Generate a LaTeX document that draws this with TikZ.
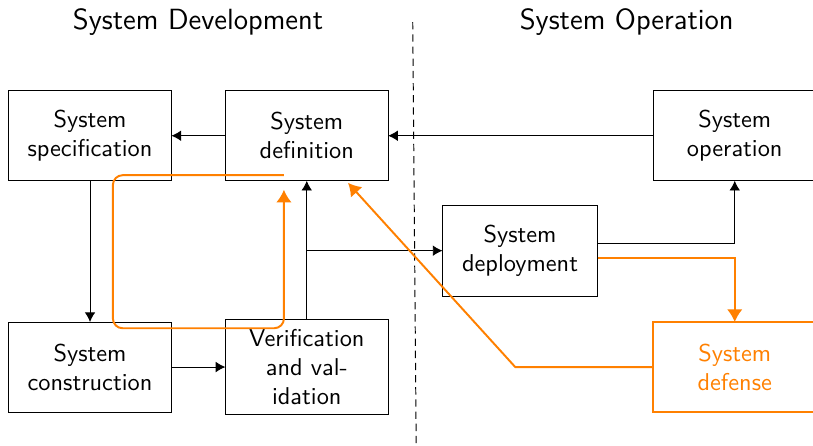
\documentclass[tikz,border=0pt]{standalone}
\usepackage{fontspec}
\usetikzlibrary{arrows.meta}
\renewcommand{\familydefault}{\sfdefault}
\definecolor{defcol}{RGB}{255,128,0}
\begin{document}
\begin{tikzpicture}[inner sep=0pt,outer sep=0pt,>={Latex[length=4pt,width=4.4pt]},
sysblock/.style={draw,rectangle,align=center,minimum width=2.35cm,minimum height=1.3cm,inner sep=2pt},
defline/.style={defcol,line width=0.8pt},
defarrow/.style={defline,-{Latex[length=5.2pt,width=6.4pt]}}]
\useasboundingbox (0,0) rectangle (11.74,-6.43);
\clip (0,0) rectangle (11.74,-6.43);
\draw (2.86,-0.32) node {\large System Development};
\draw (9.05,-0.32) node {\large System Operation};
\draw[dash pattern=on 3pt off 2pt] (5.96,-0.32) -- (6.01,-6.43);
\draw (1.30,-1.96) node[sysblock] (spec) {System\\specification};
\draw (4.43,-1.96) node[sysblock] (defn) {System\\definition};
\draw (1.30,-5.30) node[sysblock] (constr) {System\\construction};
\draw (4.43,-5.30) node[sysblock,minimum height=1.36cm] (vv) {Verification\\and val-\\idation};
\draw (7.51,-3.62) node[sysblock,minimum width=2.24cm,minimum height=1.31cm] (deploy) {System\\deployment};
\draw (10.61,-1.96) node[sysblock] (oper) {System\\operation};
\draw (10.61,-5.30) node[sysblock,defline,text=defcol] (defense) {System\\defense};
\draw[->] (defn.west) -- (spec.east);
\draw[->] (oper.west) -- (defn.east);
\draw[->] (spec.south) -- (constr.north);
\draw[->] (constr.east) -- (vv.west);
\draw[->] (vv.north) -- (defn.south);
\draw[->] (4.43,-3.62) -- (deploy.west);
\draw[->] (deploy.east) ++(0,0.11) -| (oper.south);
\draw[defarrow] (deploy.east) ++(0,-0.11) -| (defense.north);
\draw[defarrow] (defense.west) -- (7.44,-5.30) -- ([xshift=-0.58cm,yshift=-0.03cm]defn.south east);
\draw[defarrow,rounded corners=4pt] (4.10,-2.53) -| (1.63,-4.74) -| (4.10,-2.74);
\end{tikzpicture}
\end{document}
